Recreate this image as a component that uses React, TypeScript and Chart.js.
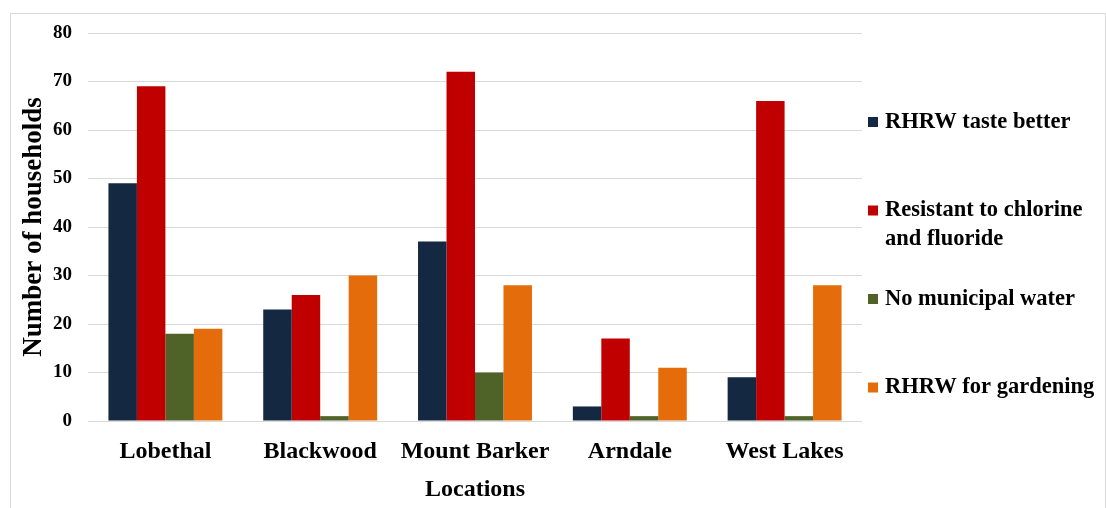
import React, { useEffect, useRef } from "react";
import { Chart, registerables } from "chart.js";

Chart.register(...registerables);

const categories = ["Lobethal", "Blackwood", "Mount Barker", "Arndale", "West Lakes"];
const seriesNames = [
  "RHRW taste better",
  "Resistant to chlorine\nand fluoride",
  "No municipal water",
  "RHRW for gardening",
];
const tasteBetter = [49, 23, 37, 3, 9];
const resistantChlorine = [69, 26, 72, 17, 66];
const noMunicipal = [18, 1, 10, 1, 1];
const gardening = [19, 30, 28, 11, 28];
const seriesColors = ["#142841", "#c00000", "#4f6228", "#e46c0a"];
const yTicks = [0, 10, 20, 30, 40, 50, 60, 70, 80];

const FONT = "'Liberation Serif', 'Times New Roman', serif";

const legendPlugin = {
  id: "sideLegend",
  afterDraw(chart: any) {
    const ctx = chart.ctx;
    const x0 = chart.chartArea.right + 6;
    const startY = 108;
    const step = 88.5;
    ctx.save();
    ctx.font = `bold 22.5px ${FONT}`;
    ctx.textBaseline = "middle";
    ctx.textAlign = "left";
    chart.data.datasets.forEach((ds: any, i: number) => {
      const y = startY + i * step;
      ctx.fillStyle = ds.backgroundColor;
      ctx.fillRect(x0, y - 5, 10, 10);
      ctx.fillStyle = "#000";
      const lines = String(ds.label).split("\n");
      lines.forEach((ln: string, j: number) => {
        ctx.fillText(ln, x0 + 17, y + j * 29);
      });
    });
    ctx.restore();
  },
};

export default function App() {
  const ref = useRef<HTMLCanvasElement | null>(null);
  useEffect(() => {
    if (!ref.current) return;
    const values = [tasteBetter, resistantChlorine, noMunicipal, gardening];
    const chart = new Chart(ref.current, {
      type: "bar",
      data: {
        labels: categories,
        datasets: values.map((v, i) => ({
          label: seriesNames[i],
          data: v,
          backgroundColor: seriesColors[i],
          borderWidth: 0,
          categoryPercentage: 0.736,
          barPercentage: 1,
        })),
      },
      options: {
        responsive: false,
        animation: false,
        layout: { padding: { left: 0, top: 19, right: 243, bottom: 0 } },
        plugins: { legend: { display: false }, tooltip: { enabled: false } },
        scales: {
          x: {
            grid: { display: false, drawTicks: false },
            border: { display: false },
            ticks: {
              padding: 16,
              color: "#000",
              font: { family: FONT, size: 24, weight: "bold" },
            },
            title: {
              display: true,
              text: "Locations",
              color: "#000",
              padding: { top: 0, bottom: 10 },
              font: { family: FONT, size: 24, weight: "bold" },
            },
            afterFit: (s: any) => {
              s.height = 93;
              s.paddingLeft = 0;
              s.paddingRight = 0;
            },
          },
          y: {
            min: 0,
            max: 80,
            afterBuildTicks: (s: any) => {
              s.ticks = yTicks.map((v) => ({ value: v }));
            },
            grid: { color: "#d9d9d9", lineWidth: 1, drawTicks: false },
            border: { display: false },
            ticks: {
              padding: 16,
              color: "#000",
              font: { family: FONT, size: 19, weight: "bold" },
            },
            title: {
              display: true,
              text: "Number of households",
              color: "#000",
              padding: { top: 7, bottom: 0 },
              font: { family: FONT, size: 27, weight: "bold" },
            },
            afterFit: (s: any) => {
              s.width = 77;
              s.paddingTop = 0;
              s.paddingBottom = 0;
            },
          },
        },
      },
      plugins: [legendPlugin],
    });
    return () => chart.destroy();
  }, []);
  return (
    <div
      style={{
        position: "fixed",
        left: 10,
        top: 13,
        width: 1094,
        height: 500,
        border: "1px solid #d9d9d9",
        background: "#fff",
      }}
    >
      <canvas ref={ref} width={1094} height={500} style={{ display: "block" }} />
    </div>
  );
}
